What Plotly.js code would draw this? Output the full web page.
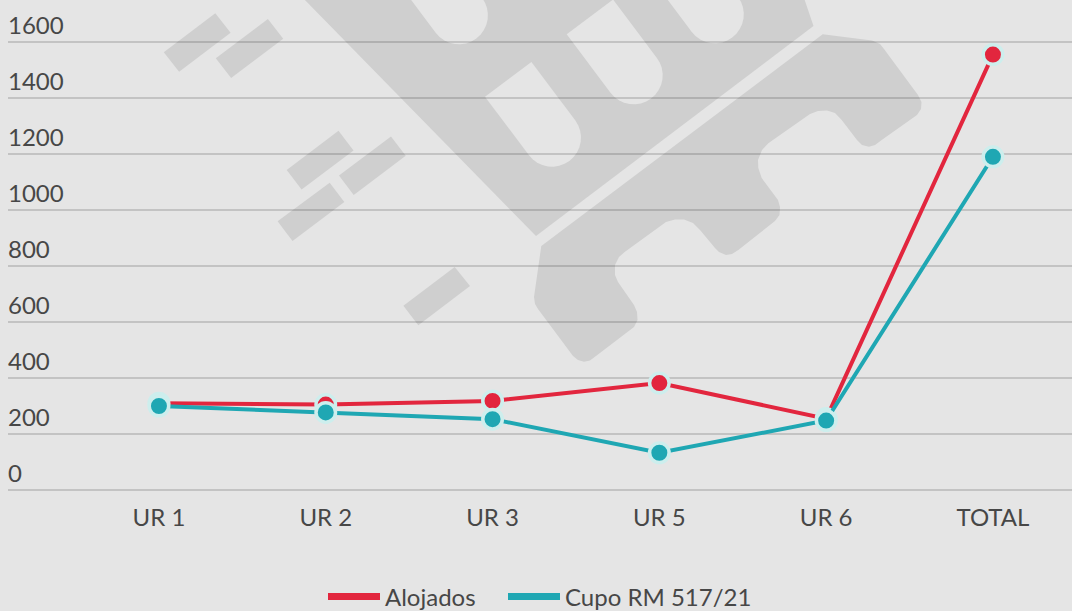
<!DOCTYPE html>
<html><head><meta charset="utf-8">
<script src="https://cdn.plot.ly/plotly-3.0.1.min.js"></script>
<style>html,body{margin:0;padding:0;background:#e5e5e5;} #chart{width:1072px;height:611px;}</style>
</head><body><div id="chart"></div>
<script>
// ---- data ----
const categories = ['UR 1', 'UR 2', 'UR 3', 'UR 5', 'UR 6', 'TOTAL'];
const alojados = [310, 305, 318, 382, 255, 1555];
const cupo = [300, 277, 253, 133, 248, 1190];
const seriesNames = ['Alojados', 'Cupo RM 517/21'];
const yTickVals = [0, 200, 400, 600, 800, 1000, 1200, 1400, 1600];
const yTickText = ['0', '200', '400', '600', '800', '1000', '1200', '1400', '1600'];

// ---- style ----
const RED = '#e2263e', TEAL = '#1fa7b3', RING = '#cdeeed', BG = '#e5e5e5', WM = '#cfcfcf';
const FONT = 'Lato, "Open Sans", sans-serif', TXT = '#474747';
const M = {l: 8, r: 0, t: 10, b: 110, autoexpand: false};
const W = 1072 - M.l - M.r, H = 611 - M.t - M.b;

// watermark (decorative logo) drawn in figure pixel space, converted to paper coords
function P(p) { return ((p[0] - M.l) / W).toFixed(5) + ',' + ((611 - M.b - p[1]) / H).toFixed(5); }
function poly(pts) { return 'M' + pts.map(P).join('L') + 'Z'; }
const u = [0.6, 0.8], n = [0.8, -0.6];
function stadium(B, L, w) {
  const e = [B[0] + L * u[0], B[1] + L * u[1]];
  const r = w / 2;
  const c = [e[0] + r * n[0], e[1] + r * n[1]];
  const pts = [B];
  for (let i = 0; i <= 16; i++) {
    const t = Math.PI * i / 16;
    pts.push([c[0] + r * (-Math.cos(t) * n[0] + Math.sin(t) * u[0]),
              c[1] + r * (-Math.cos(t) * n[1] + Math.sin(t) * u[1])]);
  }
  pts.push([B[0] + w * n[0], B[1] + w * n[1]]);
  return poly(pts);
}
const bars = [
  [[215.3,13.3],[230.6,32.7],[179.1,71.7],[163.8,52.3]],
  [[267.9,19],[283.2,38.7],[231.1,78],[215.8,58.3]],
  [[338.5,130.7],[353.5,150.5],[301.6,189.5],[286.7,170]],
  [[391,136.5],[405.7,155.7],[353.7,195],[339,175.5]],
  [[329.7,182.7],[344.3,202],[292.5,241],[277.6,221.3]],
  [[454.7,267],[470,286],[418.3,325.3],[403.4,305.7]]
];
const vShape = [[300,-5],[536,236],[813.5,26],[803,-5]];
const gear = [[541.3,246],[822.7,34.3],[872,40.5],[880,44],[884,49],[918,95],[921.5,102],[921,109],[917,115],
  [881.7,140],[875,145],[869,146.7],[862,145],[857,140],[841.7,120],[835,113],[827,110.5],[818,111],[810,114],
  [768.3,143.3],[762,150],[758,160],[758.3,168],[761.7,178],[778,200],[780,207],[779.5,215],[775,221],
  [738.3,250],[732,254],[726,255],[719,252],[715,248],[700,230],[693,223],[684,219.5],[675,219.5],[666,222],
  [625,251.7],[619,257],[615,265],[615,275],[618,282],[634,305],[637,312],[637.5,320],[634,327],
  [596,356],[590,360.5],[584,361.7],[578,360],[573,356],[538,309],[535,304],[534,297]];
const shapes = [];
function addShape(path, color) {
  shapes.push({type: 'path', xref: 'paper', yref: 'paper', path: path, fillcolor: color,
    line: {width: 0}, layer: 'below'});
}
bars.forEach(b => addShape(poly(b), WM));
addShape(poly(vShape), WM);
addShape(poly(gear), WM);
addShape(stadium([393.7,-23.3], 70, 58), BG);
addShape(stadium([649.6,-24.3], 70, 58), BG);
addShape(stadium([485,96.7], 73, 58), BG);
addShape(stadium([566.7,34.3], 73, 58), BG);

const markerStyle = c => ({color: c, size: 19.5, line: {color: RING, width: 3.5}});
const traces = [
  {x: categories, y: alojados, name: seriesNames[0], type: 'scatter', mode: 'lines+markers',
   line: {color: RED, width: 4}, marker: markerStyle(RED), showlegend: false, cliponaxis: false},
  {x: categories, y: cupo, name: seriesNames[1], type: 'scatter', mode: 'lines+markers',
   line: {color: TEAL, width: 4}, marker: markerStyle(TEAL), showlegend: false, cliponaxis: false},
  {x: [null], y: [null], name: seriesNames[0], type: 'scatter', mode: 'lines',
   line: {color: RED, width: 7}, showlegend: true, legend: 'legend'},
  {x: [null], y: [null], name: seriesNames[1], type: 'scatter', mode: 'lines',
   line: {color: TEAL, width: 7}, showlegend: true, legend: 'legend2'}
];

const legY = (611 - M.b - 597) / H;
const legBase = {orientation: 'h', y: legY, yanchor: 'middle', xanchor: 'left', itemwidth: 52,
  font: {family: FONT, size: 24, color: TXT}, bgcolor: 'rgba(0,0,0,0)', borderwidth: 0};
const layout = {
  width: 1072, height: 611,
  margin: M,
  paper_bgcolor: BG, plot_bgcolor: BG,
  font: {family: FONT, size: 24, color: TXT},
  xaxis: {type: 'category', categoryarray: categories, range: [-0.905, 5.474],
    showgrid: false, zeroline: false, showline: false, ticks: '',
    tickfont: {family: FONT, size: 24, color: TXT}, fixedrange: true},
  yaxis: {range: [-39.29, 1714.3], tickvals: yTickVals, ticktext: yTickText,
    showgrid: true, gridcolor: 'rgba(0,0,0,0.15)', gridwidth: 2,
    zeroline: false, showline: false, ticks: '',
    ticklabelposition: 'inside', ticklabeloverflow: 'allow', ticklabelshift: -16, ticklabelstandoff: -3,
    tickfont: {family: FONT, size: 24, color: TXT}, fixedrange: true},
  legend: Object.assign({}, legBase, {x: (323 - M.l) / W}),
  legend2: Object.assign({}, legBase, {x: (503 - M.l) / W}),
  shapes: shapes,
  showlegend: true
};
Plotly.newPlot('chart', traces, layout, {staticPlot: true, displayModeBar: false});
</script></body></html>
